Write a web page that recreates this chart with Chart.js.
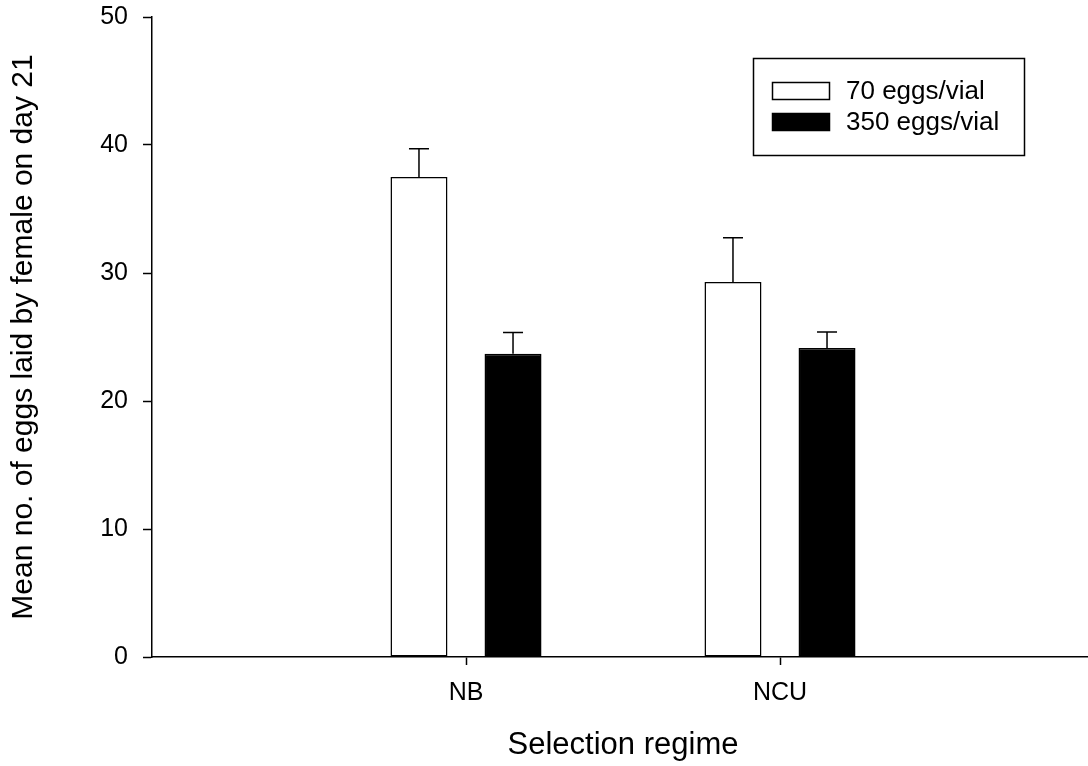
<!DOCTYPE html>
<html>
<head>
<meta charset="utf-8">
<script src="https://cdn.jsdelivr.net/npm/chart.js@4.4.1/dist/chart.umd.min.js"></script>
<style>
  html, body { margin: 0; padding: 0; background: #fff; overflow: hidden; }
  /* the x axis runs slightly past the right edge of the view */
  #wrap { width: 1088px; height: 766px; overflow: hidden; }
</style>
</head>
<body>
<div id="wrap"><canvas id="c" width="1094" height="766"></canvas></div>
<script>
// Selection regimes (blank slots pad the axis on both sides)
const categories = ['', 'NB', 'NCU', ''];
const seriesNames = ['70 eggs/vial', '350 eggs/vial'];
// Mean eggs per female on day 21
const lowDensity = [null, 37.5, 29.3, null];
const highDensity = [null, 23.7, 24.15, null];
// Upper end of the error bars (mean + SE)
const lowDensityUpper = [null, 39.7, 32.75, null];
const highDensityUpper = [null, 25.35, 25.4, null];
const yTicks = [0, 10, 20, 30, 40, 50];

const FONT = "'Liberation Sans', Arial, Helvetica, sans-serif";

const errorBars = {
  id: 'errorBars',
  afterDatasetsDraw(chart) {
    const ctx = chart.ctx;
    const y = chart.scales.y;
    const uppers = [lowDensityUpper, highDensityUpper];
    ctx.save();
    ctx.strokeStyle = '#000';
    ctx.lineWidth = 1.5;
    chart.data.datasets.forEach((ds, di) => {
      const meta = chart.getDatasetMeta(di);
      meta.data.forEach((bar, i) => {
        const up = uppers[di][i];
        if (up == null || ds.data[i] == null) return;
        const top = y.getPixelForValue(up);
        ctx.beginPath();
        ctx.moveTo(bar.x, bar.y);
        ctx.lineTo(bar.x, top);
        ctx.moveTo(bar.x - 10, top);
        ctx.lineTo(bar.x + 10, top);
        ctx.stroke();
      });
    });
    ctx.restore();
  }
};

const boxLegend = {
  id: 'boxLegend',
  afterDraw(chart) {
    const ctx = chart.ctx;
    ctx.save();
    ctx.lineWidth = 1.5;
    ctx.strokeStyle = '#000';
    ctx.strokeRect(753.5, 58.5, 271, 97);
    ctx.font = '26px ' + FONT;
    ctx.textBaseline = 'middle';
    ctx.textAlign = 'left';
    chart.data.datasets.forEach((ds, i) => {
      const ty = 91 + i * 31;
      ctx.fillStyle = ds.backgroundColor;
      ctx.fillRect(772, ty - 9, 58, 18);
      ctx.strokeRect(772.5, ty - 8.5, 57, 17);
      ctx.fillStyle = '#000';
      ctx.fillText(ds.label, 846, ty + 1);
    });
    ctx.restore();
  }
};

new Chart(document.getElementById('c'), {
  type: 'bar',
  data: {
    labels: categories,
    datasets: [
      {
        label: seriesNames[0],
        data: lowDensity,
        backgroundColor: '#ffffff',
        borderColor: '#000000',
        borderWidth: 1.5,
        borderSkipped: false
      },
      {
        label: seriesNames[1],
        data: highDensity,
        backgroundColor: '#000000',
        borderColor: '#000000',
        borderWidth: 1.5,
        borderSkipped: false
      }
    ]
  },
  options: {
    responsive: false,
    animation: false,
    events: [],
    categoryPercentage: 0.599,
    barPercentage: 0.606,
    layout: { padding: { top: 17, right: 0, left: 0, bottom: 0 } },
    plugins: {
      legend: { display: false },
      tooltip: { enabled: false },
      title: { display: false }
    },
    scales: {
      x: {
        type: 'category',
        offset: false,
        afterFit(scale) {
          scale.height = 109;
          scale.paddingLeft = 0;
          scale.paddingRight = 0;
        },
        grid: {
          display: true,
          offset: false,
          drawOnChartArea: false,
          drawTicks: true,
          tickLength: 8,
          tickWidth: 1.5,
          tickColor: (c) => (c.index === 1 || c.index === 2) ? '#000' : 'rgba(0,0,0,0)'
        },
        border: { display: true, color: '#000', width: 1.5 },
        ticks: {
          color: '#000',
          font: { family: FONT, size: 25 },
          padding: 13,
          maxRotation: 0,
          autoSkip: false
        },
        title: {
          display: true,
          text: 'Selection regime',
          color: '#000',
          font: { family: FONT, size: 31 },
          padding: { top: 0, bottom: 2 }
        }
      },
      y: {
        min: 0,
        max: 50,
        afterFit(scale) {
          scale.width = 152;
          scale.paddingTop = 0;
          scale.paddingBottom = 0;
        },
        afterBuildTicks(scale) { scale.ticks = yTicks.map(v => ({ value: v })); },
        grid: {
          display: true,
          drawOnChartArea: false,
          drawTicks: true,
          tickLength: 9,
          tickWidth: 1.5,
          tickColor: '#000'
        },
        border: { display: true, color: '#000', width: 1.5 },
        ticks: {
          color: '#000',
          font: { family: FONT, size: 25 },
          padding: 15
        },
        title: {
          display: true,
          text: 'Mean no. of eggs laid by female on day 21',
          color: '#000',
          font: { family: FONT, size: 30 },
          padding: { top: 6, bottom: 0 }
        }
      }
    }
  },
  plugins: [errorBars, boxLegend]
});
</script>
</body>
</html>
